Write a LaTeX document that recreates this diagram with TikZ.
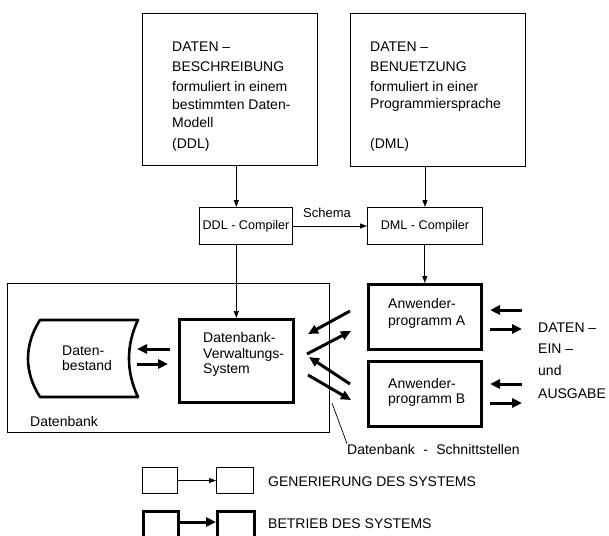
\documentclass[tikz,border=0pt]{standalone}
\usepackage{fontspec}
\setmainfont{Liberation Sans}
\usetikzlibrary{arrows.meta,calc}
\begin{document}
\begin{tikzpicture}[x=1pt,y=-1pt,
  thinbox/.style={draw, line width=1pt, inner sep=0pt, anchor=north west},
  thickbox/.style={draw, line width=2.6pt, inner sep=0pt, anchor=north west},
  thinarr/.style={line width=1pt, -{Triangle[length=7pt,width=5pt]}},
  thickarr/.style={line width=3pt, -{Triangle[length=10pt,width=9pt]}},
  txt/.style={anchor=base west, inner sep=0pt, font=\fontsize{14}{16}\selectfont},
  ctxt/.style={inner sep=0pt, font=\fontsize{12.6}{14}\selectfont}]
\useasboundingbox (0,0) rectangle (609,535);
\clip (0,0) rectangle (609,535);

% top boxes
\node[thinbox, minimum width=175pt, minimum height=152pt] (desc) at (142,13) {};
\node[thinbox, minimum width=175pt, minimum height=153pt] (use) at (350,13) {};
\node[txt] (d1) at (172,52) {DATEN –};
\node[txt] (d2) at (172,71) {BESCHREIBUNG};
\node[txt] (d3) at (172,91) {formuliert in einem};
\node[txt] (d4) at (172,109) {bestimmten Daten-};
\node[txt] (d5) at (172,127) {Modell};
\node[txt] (d6) at (172,148) {(DDL)};
\node[txt] (u1) at (370,52) {DATEN –};
\node[txt] (u2) at (370,71) {BENUETZUNG};
\node[txt] (u3) at (370,91) {formuliert in einer};
\node[txt] (u4) at (370,108) {Programmiersprache};
\node[txt] (u5) at (370,148) {(DML)};

% compilers
\node[thinbox, minimum width=93pt, minimum height=37pt] (ddlc) at (199,207) {};
\node[ctxt] (ddlt) at (ddlc.center) {DDL - Compiler};
\node[thinbox, minimum width=115pt, minimum height=37pt] (dmlc) at (367,207) {};
\node[ctxt] (dmlt) at (dmlc.center) {DML - Compiler};
\node[ctxt, anchor=base, font=\fontsize{13}{15}\selectfont] (schema) at (327,217) {Schema};

% Datenbank
\node[thinbox, minimum width=322pt, minimum height=149pt] (db) at (7,283) {};
\node[txt] (dblbl) at (30,426) {Datenbank};
\node[thickbox, minimum width=114pt, minimum height=83pt] (dbvs) at (178,318) {};
\node[txt] (v1) at (203,342) {Datenbank-};
\node[txt] (v2) at (203,358) {Verwaltungs-};
\node[txt] (v3) at (203,373) {System};

\draw[line width=2.6pt, line join=round]
  (40,320) -- (138,320) .. controls (126,345) and (126,372) .. (138,397)
  -- (40,397) .. controls (24,372) and (24,345) .. (40,320) -- cycle;
\node[txt] (b1) at (62,355) {Daten-};
\node[txt] (b2) at (62,370) {bestand};

% application programs
\node[thickbox, minimum width=113pt, minimum height=65pt] (appA) at (367,283) {};
\node[txt] (a1) at (388,308) {Anwender-};
\node[txt] (a2) at (388,325) {programm A};
\node[thickbox, minimum width=113pt, minimum height=65pt] (appB) at (367,360) {};
\node[txt] (bb1) at (388,388) {Anwender-};
\node[txt] (bb2) at (388,403) {programm B};

\node[txt] (io1) at (538,332) {DATEN –};
\node[txt] (io2) at (538,353) {EIN –};
\node[txt] (io3) at (538,375) {und};
\node[txt] (io4) at (538,398) {AUSGABE};

% thin connectors
\draw[thinarr] (desc.south -| dbvs.north) -- (ddlc.north -| dbvs.north);
\draw[thinarr] (ddlc.south -| dbvs.north) -- (dbvs.north);
\draw[thinarr] (use.south -| dmlc.north) -- (dmlc.north);
\draw[thinarr] (dmlc.south -| appA.north) -- (appA.north);
\draw[thinarr] (ddlc.east) -- (dmlc.west);

% thick arrows
\coordinate (s1) at (170,349); \coordinate (s2) at (137,349);
\coordinate (s3) at (137,364); \coordinate (s4) at (168,364);
\draw[thickarr] (s1) -- (s2);
\draw[thickarr] (s3) -- (s4);

\coordinate (i1a) at (350,311); \coordinate (i1b) at (308,334);
\coordinate (i2a) at (307,354); \coordinate (i2b) at (351,331);
\coordinate (i3a) at (350,384); \coordinate (i3b) at (309,357);
\coordinate (i4a) at (308,375); \coordinate (i4b) at (351,400);
\draw[thickarr] (i1a) -- (i1b);
\draw[thickarr] (i2a) -- (i2b);
\draw[thickarr] (i3a) -- (i3b);
\draw[thickarr] (i4a) -- (i4b);

\coordinate (o1a) at (522,310); \coordinate (o1b) at (490,310);
\coordinate (o2a) at (490,329); \coordinate (o2b) at (522,329);
\coordinate (o3a) at (522,384); \coordinate (o3b) at (490,384);
\coordinate (o4a) at (490,403); \coordinate (o4b) at (522,403);
\draw[thickarr] (o1a) -- (o1b);
\draw[thickarr] (o2a) -- (o2b);
\draw[thickarr] (o3a) -- (o3b);
\draw[thickarr] (o4a) -- (o4b);

% interface pointer
\coordinate (ptr) at (332,403);
\node[txt] (sst) at (347,454) {Datenbank\hspace{0.6em}-\hspace{0.6em}Schnittstellen};
\draw[line width=0.7pt] (ptr) -- (sst.north west);

% legend
\node[thinbox, minimum width=35pt, minimum height=26pt] (l1) at (142,467) {};
\node[thinbox, minimum width=37pt, minimum height=26pt] (l2) at (216,467) {};
\draw[thinarr] (l1.east) -- (l2.west);
\node[txt] (g1) at (268,486) {GENERIERUNG DES SYSTEMS};
\node[thickbox, minimum width=35pt, minimum height=40pt] (l3) at (142,510) {};
\node[thickbox, minimum width=37pt, minimum height=40pt] (l4) at (216,510) {};
\draw[thickarr] ($(l3.north east)+(0,12)$) -- ($(l4.north west)+(0,12)$);
\node[txt] (g2) at (268,528) {BETRIEB DES SYSTEMS};
\end{tikzpicture}
\end{document}
